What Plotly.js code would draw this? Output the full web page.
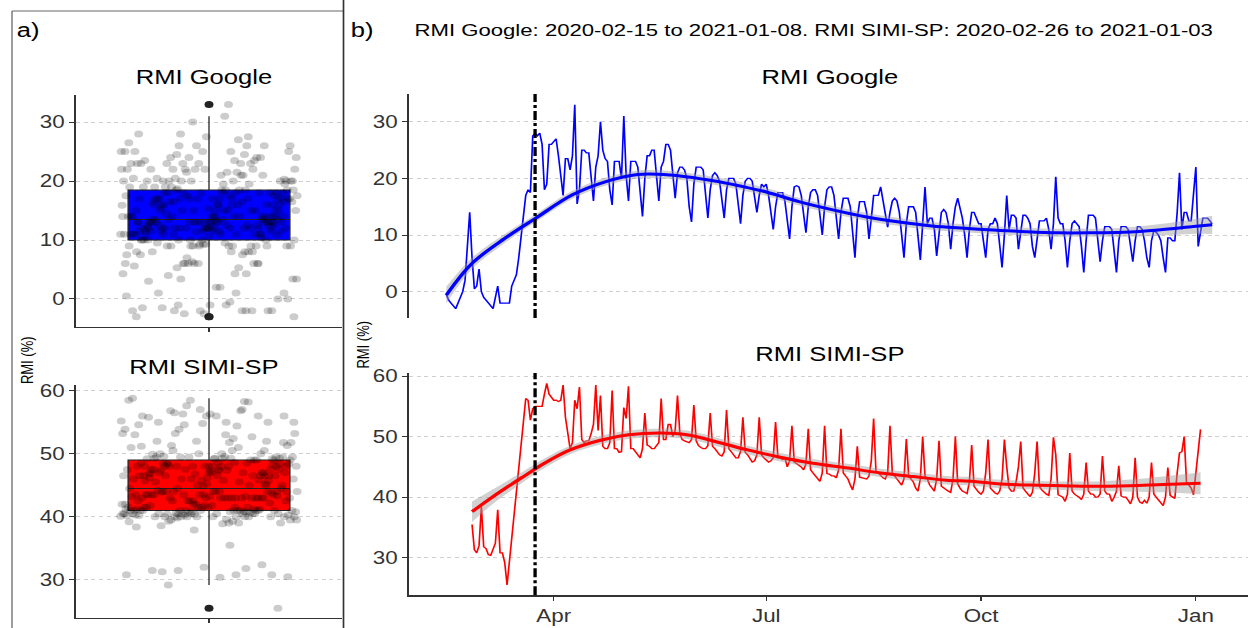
<!DOCTYPE html>
<html>
<head>
<meta charset="utf-8">
<script src="https://cdn.plot.ly/plotly-3.0.1.min.js"></script>
<style>
  html, body { margin: 0; padding: 0; background: #fff; overflow: hidden; }
  #chart { width: 975px; height: 628px; transform: scaleX(1.28); transform-origin: 0 0; }
</style>
</head>
<body>
<div id="chart"></div>
<script>
// ---------------- DATA ----------------
const googleStart = '2020-02-15';
const googleRMI = [
  -0.5, -1.5, -2, -2.5, -3, -2, -1, 0, 2, 8,
  14, 6, 0.5, 1, 4, 0, -1, -1.5, -2, -2.5,
  -3, -1, 1, -2, -2, -2, -2, -2, 1, 2,
  3, 6, 10, 14, 17, 18, 17.5, 27.5, 28, 27.5,
  28, 26, 18, 19, 26, 26, 26.5, 27, 24, 20,
  17, 23.5, 23.5, 21.5, 24, 33, 15.5, 18, 25, 25,
  24.5, 24.5, 20, 16, 22, 24, 30, 25, 23.5, 23,
  18, 15.3, 23, 23, 23, 20, 31, 20.5, 16, 23,
  23, 23, 22, 18, 13.3, 20, 24, 24, 25, 25,
  20, 16, 22, 23, 26, 26, 25, 21, 16.5, 21,
  22, 22, 21.5, 20, 15, 12.3, 19, 22, 22, 22,
  21.5, 17, 13, 18, 20.5, 21, 20.5, 19.5, 16, 13,
  18, 20, 20, 20, 19, 15, 12, 17, 19.5, 20,
  20, 19.5, 17, 14, 17, 19, 18.5, 19, 17, 14,
  11, 15, 17.5, 17.5, 17.5, 16, 12, 9.3, 15, 18.5,
  18.7, 18.5, 17, 13, 10.4, 15, 17.5, 18, 18, 17,
  13, 10, 15, 18, 18.5, 18.5, 17, 13, 9.3, 14,
  16.5, 16.5, 16.5, 15, 10, 6, 13, 15.9, 15.9, 15.9,
  14, 9.3, 13, 17, 17, 17, 18.5, 16, 13, 11.4,
  14, 16, 16.5, 16, 14, 10, 6, 12, 15, 15,
  15, 14, 10, 5.6, 12, 18.5, 12, 13, 13, 11,
  6.3, 11, 14, 14.5, 14, 12, 7.5, 12, 15, 16.5,
  15, 13, 10, 6, 11, 14, 14, 13, 12, 12,
  9, 6, 11, 12, 12, 13, 12, 8, 4.3, 10,
  17, 11, 13.5, 13.5, 13, 7.5, 11, 13.5, 13.5, 13,
  12, 8, 6, 10, 12.5, 12.5, 12.5, 13, 11, 7.5,
  12, 20.3, 13, 12, 12, 9, 4.3, 9, 12, 12.5,
  12, 11.5, 8, 3.4, 9, 13.5, 13.5, 13.5, 13, 9,
  5.3, 9, 11.5, 11.5, 11.5, 11, 7, 3.4, 9, 11.5,
  11.5, 11.5, 11, 8, 5.3, 9, 11.5, 11.5, 11, 9,
  6, 4.3, 9, 10.8, 10.5, 10, 9, 6, 3.4, 9.5,
  9.5, 9, 9, 14, 21, 11, 14, 14, 12.5, 12.5,
  17, 22, 8, 11, 13, 13, 13, 12.5, 12
];

const simiStart = '2020-02-26';
const simiRMI = [
  35.5, 31.3, 30.8, 32, 38.4, 31.8, 31.5, 30.5, 30.4, 31.5,
  32.4, 37.9, 30.8, 30.8, 29.2, 25.5, null, null, null, null,
  null, null, null, 56.3, 56, 52.7, 54.6, 55, 55, 55,
  55, 57, 58.8, 57, 56.5, 56, 56, 55.8, 56, 58.5,
  53.2, 50.5, 48, 49, 56, 54.6, 58.2, 49.5, 49, 49.3,
  49.3, 50.5, 52, 58.5, 51, 56.8, 48.4, 48, 48, 49,
  57.6, 48, 48, 47.4, 47.5, 54.8, 53, 58.3, 48, 48,
  47.5, 47, 46.5, 48, 53.9, 48.6, 48.4, 48, 48, 48.5,
  49, 56.3, 49.5, 49.5, 52, 52, 50, 51, 56.8, 50.5,
  49.5, 49.3, 49.2, 49, 49.5, 55.2, 49.3, 48.5, 48.2, 48,
  48, 48.5, 53.9, 48.4, 48, 47.5, 47, 46.8, 47.5, 54.4,
  48, 47.5, 47, 46.5, 46.5, 47.5, 53.2, 47.4, 47, 46.5,
  45.8, 46, 47, 53.2, 47, 46.5, 46.2, 45.8, 46, 46.5,
  52.4, 46.5, 46.5, 46.2, 46.5, 45, 46, 51.8, 45.8, 45.5,
  45.2, 45, 44.5, 45.5, 51.3, 44.5, 44, 43.5, 43, 42.6,
  44, 51.8, 43.9, 43.8, 43.5, 43.5, 43.2, 44.5, 51.3, 44,
  43.5, 43, 42, 41.2, 43, 48.4, 43.3, 43.2, 43, 43,
  43.5, 46, 53, 44.2, 44, 43.5, 43.2, 43, 44, 51.8,
  44, 43.5, 43, 42.5, 42, 43, 49.6, 43.5, 43, 42.5,
  41.5, 41, 43, 50, 43.5, 43, 42, 41.5, 41, 43,
  49.3, 41.8, 41.5, 41.2, 41, 40.8, 43, 50, 42.2, 41.5,
  41, 40.8, 40.6, 42.5, 48.6, 41.8, 41.2, 40.8, 40.5, 41,
  44, 49.5, 41.5, 41, 40.7, 40.5, 41, 43, 49.5, 45,
  41.5, 41, 41, 42.5, 45, 49.2, 41.5, 41, 40.6, 40.1,
  40.8, 44, 49.2, 41.8, 41.2, 40.8, 40.5, 40.3, 43, 49.9,
  47, 40.4, 40.2, 40, 39.3, 40.5, 47.3, 41, 40.5, 40.3,
  40, 39.6, 40.5, 45.7, 41, 40.5, 40.5, 40, 40, 40.5,
  46.8, 41, 40.5, 40.5, 39.3, 40, 41, 45.2, 40.2, 40,
  40, 39.5, 38.9, 40, 46.5, 40, 39.2, 39, 39.5, 39,
  40, 45.7, 40.5, 40, 39.5, 39, 38.6, 40, 44.9, 40.3,
  40, 39.8, 44, 47.3, 47.5, 50, 42.5, 42, 41.5, 40.4,
  44, 47, 51.2
];

// smoothed trend and half-width of its grey band
const googleSmoothDates = ['2020-02-15','2020-02-26','2020-03-11','2020-03-24','2020-04-09','2020-04-23',
  '2020-05-07','2020-05-21','2020-06-05','2020-06-16','2020-07-01','2020-07-15','2020-07-30','2020-08-13',
  '2020-08-27','2020-09-10','2020-09-24','2020-10-06','2020-10-20','2020-11-03','2020-11-17','2020-12-01',
  '2020-12-16','2020-12-31','2021-01-08'];
const googleSmooth = [-0.6, 5.0, 9.4, 12.9, 17.1, 19.4, 20.7, 20.6, 19.8, 19.0, 17.6, 15.9, 14.4, 13.2,
  12.3, 11.6, 11.2, 10.9, 10.6, 10.4, 10.4, 10.5, 10.9, 11.5, 11.8];
const googleBand = [1.5, 1.0, 0.8, 0.7, 0.7, 0.7, 0.7, 0.7, 0.7, 0.7, 0.7, 0.7, 0.7, 0.7,
  0.7, 0.7, 0.7, 0.7, 0.7, 0.7, 0.7, 0.8, 1.0, 1.3, 1.6];

const simiSmoothDates = ['2020-02-26','2020-03-06','2020-03-19','2020-03-28','2020-04-08','2020-04-21',
  '2020-05-03','2020-05-17','2020-05-28','2020-06-12','2020-06-23','2020-07-07','2020-07-21','2020-08-05',
  '2020-08-19','2020-09-02','2020-09-16','2020-09-28','2020-10-08','2020-10-22','2020-11-05','2020-11-20',
  '2020-12-04','2020-12-18','2021-01-03'];
const simiSmooth = [37.6, 40.1, 43.4, 45.6, 47.8, 49.4, 50.3, 50.6, 50.3, 48.9, 47.8, 46.6, 45.6, 44.8,
  44.0, 43.4, 42.8, 42.6, 42.2, 42.0, 41.9, 41.8, 41.9, 42.1, 42.3];
const simiBand = [1.7, 1.2, 0.9, 0.8, 0.7, 0.7, 0.7, 0.7, 0.7, 0.7, 0.7, 0.7, 0.7, 0.7,
  0.7, 0.7, 0.7, 0.7, 0.7, 0.7, 0.7, 0.8, 1.0, 1.3, 1.8];

const quarantineStart = '2020-03-24';
const monthTickDates = ['2020-04-01', '2020-07-01', '2020-10-01', '2021-01-01'];
const monthTickLabels = ['Apr', 'Jul', 'Oct', 'Jan'];
const yTicksGoogle = [0, 10, 20, 30];
const yTicksSimi = [30, 40, 50, 60];

const labelA = 'a)';
const labelB = 'b)';
const mainTitle = 'RMI Google: 2020-02-15 to 2021-01-08. RMI SIMI-SP: 2020-02-26 to 2021-01-03';
const titleGoogle = 'RMI Google';
const titleSimi = 'RMI SIMI-SP';
const yTitle = 'RMI (%)';

// ---------------- HELPERS ----------------
function dayList(start, n) {
  const out = [];
  const t0 = Date.parse(start + 'T00:00:00Z');
  for (let i = 0; i < n; i++) {
    out.push(new Date(t0 + i * 86400000).toISOString().slice(0, 10));
  }
  return out;
}
// deterministic, evenly spread horizontal jitter (golden-ratio sequence), half-width 0.4
function jitterOffsets(n) {
  const out = [];
  for (let i = 0; i < n; i++) out.push((((i + 1) * 0.6180339887) % 1 - 0.5) * 0.8);
  return out;
}

const FONT = 'Liberation Sans, Arial, sans-serif';
const W = 1248, H = 628;
const px = x => x / W;
const py = y => 1 - y / H;

const googleDates = dayList(googleStart, googleRMI.length);
const simiDates = dayList(simiStart, simiRMI.length);
const googleClean = googleRMI.filter(v => v !== null);
const simiClean = simiRMI.filter(v => v !== null);

const bandGrey = 'rgba(153,153,153,0.45)';

function boxTrace(vals, color, xa, ya) {
  return {
    type: 'box', y: vals, x0: 0, xaxis: xa, yaxis: ya,
    width: 0.73, whiskerwidth: 0,
    fillcolor: color, line: { color: '#222', width: 1 },
    boxpoints: 'outliers', jitter: 0, pointpos: 0,
    marker: { color: '#222', size: 7, line: { width: 0 } },
    hoverinfo: 'skip'
  };
}
function jitterTrace(vals, xa, ya) {
  return {
    type: 'scatter', mode: 'markers', x: jitterOffsets(vals.length), y: vals, xaxis: xa, yaxis: ya,
    marker: { color: 'rgba(0,0,0,0.2)', size: 7 }, hoverinfo: 'skip'
  };
}
function bandTraces(dates, mid, half, xa, ya) {
  return [
    { type: 'scatter', mode: 'lines', x: dates, y: mid.map((v, i) => v + half[i]), xaxis: xa, yaxis: ya,
      line: { width: 0, shape: 'spline', smoothing: 1 }, hoverinfo: 'skip' },
    { type: 'scatter', mode: 'lines', x: dates, y: mid.map((v, i) => v - half[i]), xaxis: xa, yaxis: ya,
      line: { width: 0, shape: 'spline', smoothing: 1 }, fill: 'tonexty', fillcolor: bandGrey, hoverinfo: 'skip' }
  ];
}

const data = [
  boxTrace(googleClean, 'rgb(0,0,255)', 'x', 'y'),
  jitterTrace(googleClean, 'x', 'y'),
  boxTrace(simiClean, 'rgb(255,0,0)', 'x2', 'y2'),
  jitterTrace(simiClean, 'x2', 'y2'),

  { type: 'scatter', mode: 'lines', x: googleDates, y: googleRMI, xaxis: 'x3', yaxis: 'y3',
    line: { color: 'rgb(0,0,255)', width: 1.3 }, hoverinfo: 'skip' },
  ...bandTraces(googleSmoothDates, googleSmooth, googleBand, 'x3', 'y3'),
  { type: 'scatter', mode: 'lines', x: googleSmoothDates, y: googleSmooth, xaxis: 'x3', yaxis: 'y3',
    line: { color: 'rgb(0,0,255)', width: 3, shape: 'spline', smoothing: 1 }, hoverinfo: 'skip' },

  { type: 'scatter', mode: 'lines', x: simiDates, y: simiRMI, xaxis: 'x4', yaxis: 'y4', connectgaps: true,
    line: { color: 'rgb(255,0,0)', width: 1.3 }, hoverinfo: 'skip' },
  ...bandTraces(simiSmoothDates, simiSmooth, simiBand, 'x4', 'y4'),
  { type: 'scatter', mode: 'lines', x: simiSmoothDates, y: simiSmooth, xaxis: 'x4', yaxis: 'y4',
    line: { color: 'rgb(255,0,0)', width: 3, shape: 'spline', smoothing: 1 }, hoverinfo: 'skip' }
];

const tickFont = { family: FONT, size: 17.5, color: '#333' };
const yBase = {
  showline: true, linecolor: '#333', linewidth: 1.3, ticks: 'outside', ticklen: 4, tickcolor: '#333',
  tickfont: tickFont, showgrid: true, gridcolor: '#cfcfcf', griddash: 'dot', gridwidth: 1,
  zeroline: false, fixedrange: true
};
const xBoxBase = {
  type: 'linear', range: [-0.6, 0.6], showline: true, linecolor: '#333', linewidth: 1.3,
  ticks: 'outside', ticklen: 4, tickcolor: '#333', tickvals: [0], ticktext: [''],
  showgrid: false, zeroline: false, fixedrange: true
};
const xDateBase = {
  type: 'date', range: ['2020-01-30', '2021-01-23 08:00'], domain: [px(409), 1],
  tickvals: monthTickDates, ticktext: monthTickLabels, tickfont: tickFont,
  showgrid: false, zeroline: false, fixedrange: true
};

const layout = {
  width: 975, height: 628,
  margin: { l: 0, r: 0, t: 0, b: 0 },
  paper_bgcolor: '#fff', plot_bgcolor: '#fff',
  showlegend: false, hovermode: false,
  font: { family: FONT, color: '#000' },

  xaxis: Object.assign({}, xBoxBase, { domain: [px(76), px(342)], anchor: 'y' }),
  yaxis: Object.assign({}, yBase, { domain: [py(327), py(95)], range: [-4.75, 34.6], tickvals: yTicksGoogle, anchor: 'x' }),
  xaxis2: Object.assign({}, xBoxBase, { domain: [px(76), px(342)], anchor: 'y2' }),
  yaxis2: Object.assign({}, yBase, { domain: [py(617.7), py(385)], range: [24.0, 60.9], tickvals: yTicksSimi, anchor: 'x2' }),

  xaxis3: Object.assign({}, xDateBase, { anchor: 'y3', showline: false, ticks: '', showticklabels: false }),
  yaxis3: Object.assign({}, yBase, { domain: [py(318), py(94)], range: [-4.64, 34.9], tickvals: yTicksGoogle, anchor: 'x3' }),
  xaxis4: Object.assign({}, xDateBase, { anchor: 'y4', showline: true, linecolor: '#333', linewidth: 1.3,
    ticks: 'outside', ticklen: 4, tickcolor: '#333' }),
  yaxis4: Object.assign({}, yBase, { domain: [py(595.3), py(373)], range: [23.8, 60.5], tickvals: yTicksSimi, anchor: 'x4' }),

  shapes: [
    { type: 'line', xref: 'paper', yref: 'paper', x0: px(12), x1: px(12), y0: py(11), y1: py(640),
      line: { color: '#666', width: 1 } },
    { type: 'line', xref: 'paper', yref: 'paper', x0: px(12), x1: px(343), y0: py(11), y1: py(11),
      line: { color: '#666', width: 1 } },
    { type: 'line', xref: 'paper', yref: 'paper', x0: px(343.5), x1: px(343.5), y0: py(0), y1: py(640),
      line: { color: '#333', width: 1.3 } },
    { type: 'line', xref: 'x3', yref: 'y3 domain', x0: quarantineStart, x1: quarantineStart, y0: 0, y1: 1,
      line: { color: '#000', width: 2.6, dash: 'dashdot' } },
    { type: 'line', xref: 'x4', yref: 'y4 domain', x0: quarantineStart, x1: quarantineStart, y0: 0, y1: 1,
      line: { color: '#000', width: 2.6, dash: 'dashdot' } }
  ],

  annotations: [
    { text: labelA, xref: 'paper', yref: 'paper', x: px(14), y: py(30), xanchor: 'left', yanchor: 'middle',
      showarrow: false, font: { family: FONT, size: 20, color: '#000' } },
    { text: labelB, xref: 'paper', yref: 'paper', x: px(348), y: py(30), xanchor: 'left', yanchor: 'middle',
      showarrow: false, font: { family: FONT, size: 20, color: '#000' } },
    { text: mainTitle, xref: 'paper', yref: 'paper', x: px(814), y: py(30), xanchor: 'center', yanchor: 'middle',
      showarrow: false, font: { family: FONT, size: 17.3, color: '#000' } },
    { text: titleGoogle, xref: 'paper', yref: 'paper', x: px(204), y: py(77), xanchor: 'center', yanchor: 'middle',
      showarrow: false, font: { family: FONT, size: 20, color: '#000' } },
    { text: titleSimi, xref: 'paper', yref: 'paper', x: px(204), y: py(367), xanchor: 'center', yanchor: 'middle',
      showarrow: false, font: { family: FONT, size: 20, color: '#000' } },
    { text: titleGoogle, xref: 'paper', yref: 'paper', x: px(830), y: py(77), xanchor: 'center', yanchor: 'middle',
      showarrow: false, font: { family: FONT, size: 20, color: '#000' } },
    { text: titleSimi, xref: 'paper', yref: 'paper', x: px(830), y: py(354), xanchor: 'center', yanchor: 'middle',
      showarrow: false, font: { family: FONT, size: 20, color: '#000' } },
    { text: yTitle, xref: 'paper', yref: 'paper', x: px(27), y: py(360), xanchor: 'center', yanchor: 'middle',
      textangle: -90, showarrow: false, font: { family: FONT, size: 13, color: '#000' } },
    { text: yTitle, xref: 'paper', yref: 'paper', x: px(363), y: py(345), xanchor: 'center', yanchor: 'middle',
      textangle: -90, showarrow: false, font: { family: FONT, size: 13, color: '#000' } }
  ]
};

Plotly.newPlot('chart', data, layout, { staticPlot: true, displayModeBar: false });
</script>
</body>
</html>
